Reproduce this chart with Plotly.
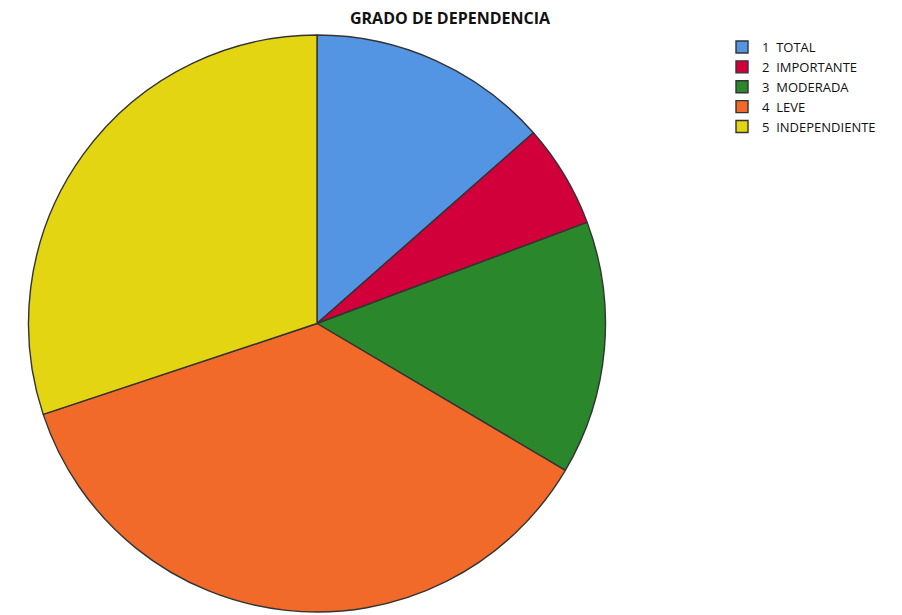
import plotly.graph_objects as go

categories = ["1  TOTAL", "2  IMPORTANTE", "3  MODERADA", "4  LEVE", "5  INDEPENDIENTE"]
values = [13.5, 5.8, 14.2, 36.4, 30.1]
colors = ["#5495E3", "#D2003A", "#2B872B", "#F26A2A", "#E3D512"]

W, H = 902, 615

fig = go.Figure(
    go.Pie(
        labels=categories,
        values=values,
        sort=False,
        direction="clockwise",
        rotation=0,
        textinfo="none",
        hoverinfo="label+percent",
        marker=dict(colors=colors, line=dict(color="#333333", width=1.4)),
        domain=dict(x=[16 / W, 618 / W], y=[3 / H, 1 - 35 / H]),
    )
)

fig.update_layout(
    width=W,
    height=H,
    margin=dict(l=0, r=0, t=0, b=0),
    paper_bgcolor="white",
    plot_bgcolor="white",
    title=dict(
        text="<b>GRADO DE DEPENDENCIA</b>",
        x=450 / W,
        xanchor="center",
        y=1 - 18 / H,
        yanchor="middle",
        font=dict(family="Open Sans", size=16, color="#111111"),
    ),
    legend=dict(
        x=722 / W,
        y=1 - 32 / H,
        xanchor="left",
        yanchor="top",
        font=dict(family="Open Sans", size=13, color="#111111"),
        bgcolor="rgba(0,0,0,0)",
        itemwidth=30,
    ),
)

fig.write_html("out.html")
